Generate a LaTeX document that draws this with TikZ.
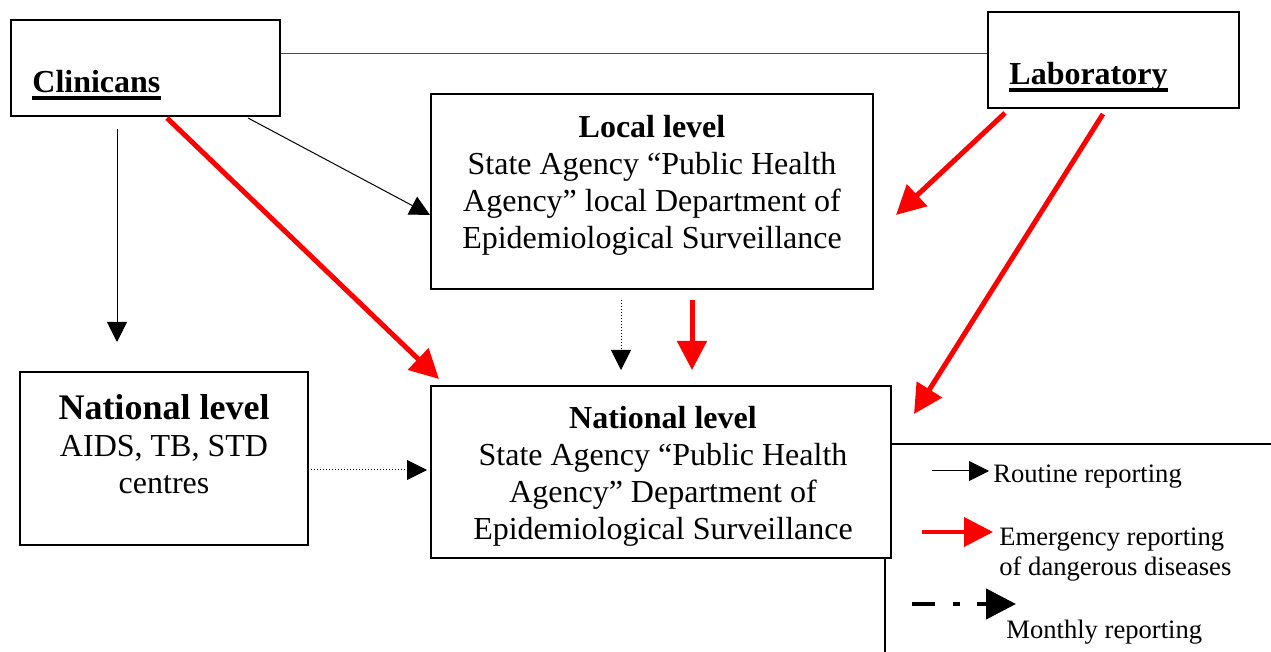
\documentclass[tikz,border=0pt]{standalone}
\usepackage{fontspec}
\setmainfont{Liberation Serif}
\usetikzlibrary{arrows.meta,calc}

\begin{document}
\begin{tikzpicture}[x=0.5pt,y=-0.5pt,
  box/.style={draw,line width=1pt,inner sep=0pt},
  txt/.style={inner sep=0pt,align=center,font=\fontsize{16}{18.5}\selectfont},
  lg/.style={inner sep=0pt,align=left,font=\fontsize{13.3}{15}\selectfont},
  rt/.style={line width=0.5pt,-{Triangle[length=10pt,width=10pt]}},
  dt/.style={rt,densely dotted},
  em/.style={red,line width=2.5pt,-{Triangle[length=14.5pt,width=14.5pt]}},
  mo/.style={line width=2.2pt,dash pattern=on 11.5pt off 9pt on 3.5pt off 8.5pt,-{Triangle[length=15pt,width=15pt]}}]
\useasboundingbox (0,0) rectangle (1271,652);

% boxes
\node[box,minimum width=134.5pt,minimum height=48pt] (B1) at (145.5,68) {};
\node[box,minimum width=125.5pt,minimum height=48pt] (B2) at (1113.5,60) {};
\node[box,minimum width=221pt,minimum height=97.5pt] (B3) at (652,191.5) {};
\node[box,minimum width=230pt,minimum height=86pt] (B4) at (661,472) {};
\node[box,minimum width=144pt,minimum height=86.5pt] (B5) at (164,458.5) {};

% texts
\node[inner sep=0pt,anchor=base west,font=\fontsize{16}{18.5}\selectfont\bfseries] (T1) at (32,93) {Clinicans};
\draw[line width=1.8pt] ($(T1.base west)+(0,5)$) -- ($(T1.base east)+(0,5)$);
\node[inner sep=0pt,anchor=base west,font=\fontsize{16}{18.5}\selectfont\bfseries] (T2) at (1009,85) {Laboratory};
\draw[line width=1.7pt] ($(T2.base west)+(0,5)$) -- ($(T2.base east)+(0,5)$);
\node[txt,anchor=base] (T3) at (652,249) {\textbf{Local level}\\State Agency “Public Health\\Agency” local Department of\\Epidemiological Surveillance};
\node[txt,anchor=base] (T4) at (663,539) {\textbf{National level}\\State Agency “Public Health\\Agency” Department of\\Epidemiological Surveillance};
\node[txt,anchor=base] (T5) at (164,494) {{\fontsize{18}{20}\selectfont\bfseries National level}\\AIDS, TB, STD\\centres};

\draw[line width=0.5pt,black!70] ([yshift=7pt]B1.east) -- ([yshift=7pt]B1.east -| B2.west);

% routine and emergency
\draw[rt] ($(B1.south)+(-28.5,12)$) -- ($(B5.north)+(-47,-29)$);
\draw[rt] ($(B1.south)+(102.5,1)$) -- ($(B3.west)+(0,23.5)$);
\draw[em] ($(B1.south)+(21.5,1)$) -- ($(B4.north west)+(9,-6)$);
\draw[em] ($(B2.south west)+(18,4)$) -- ($(B3.east)+(22,23.5)$);
\draw[em] ($(B2.south)+(-10.5,5)$) -- ($(B4.north east)+(22,29)$);
\draw[dt] ($(B3.south)+(-31,10)$) -- ($(B4.north)+(-40,-15)$);
\draw[em] ($(B3.south)+(40,10)$) -- ($(B4.north)+(31,-15)$);
\draw[dt] ($(B5.east)+(2,11.5)$) -- ($(B4.west)+(-3,-2)$);

% legend
\draw[line width=1pt] ($(B4.north east)+(0,59)$) -- ++(380,0);
\draw[line width=1pt] ($(B4.south east)+(-7,0)$) -- ++(0,94);
\node[lg,anchor=base west] (L1) at (993,483) {Routine reporting};
\node[lg,anchor=base west] (L2) at (999,575) {Emergency reporting\\of dangerous diseases};
\node[lg,anchor=base west] (L3) at (1006,639) {Monthly reporting};
\draw[rt] ($(L1.base west)+(-61,-12)$) -- ($(L1.base west)+(-4,-12)$);
\draw[em,line width=2pt] ($(L2.base west)+(-77,-43)$) -- ($(L2.base west)+(-6,-43)$);
\draw[mo] ($(L3.base west)+(-94,-35)$) -- ($(L3.base west)+(10,-35)$);
\end{tikzpicture}
\end{document}
